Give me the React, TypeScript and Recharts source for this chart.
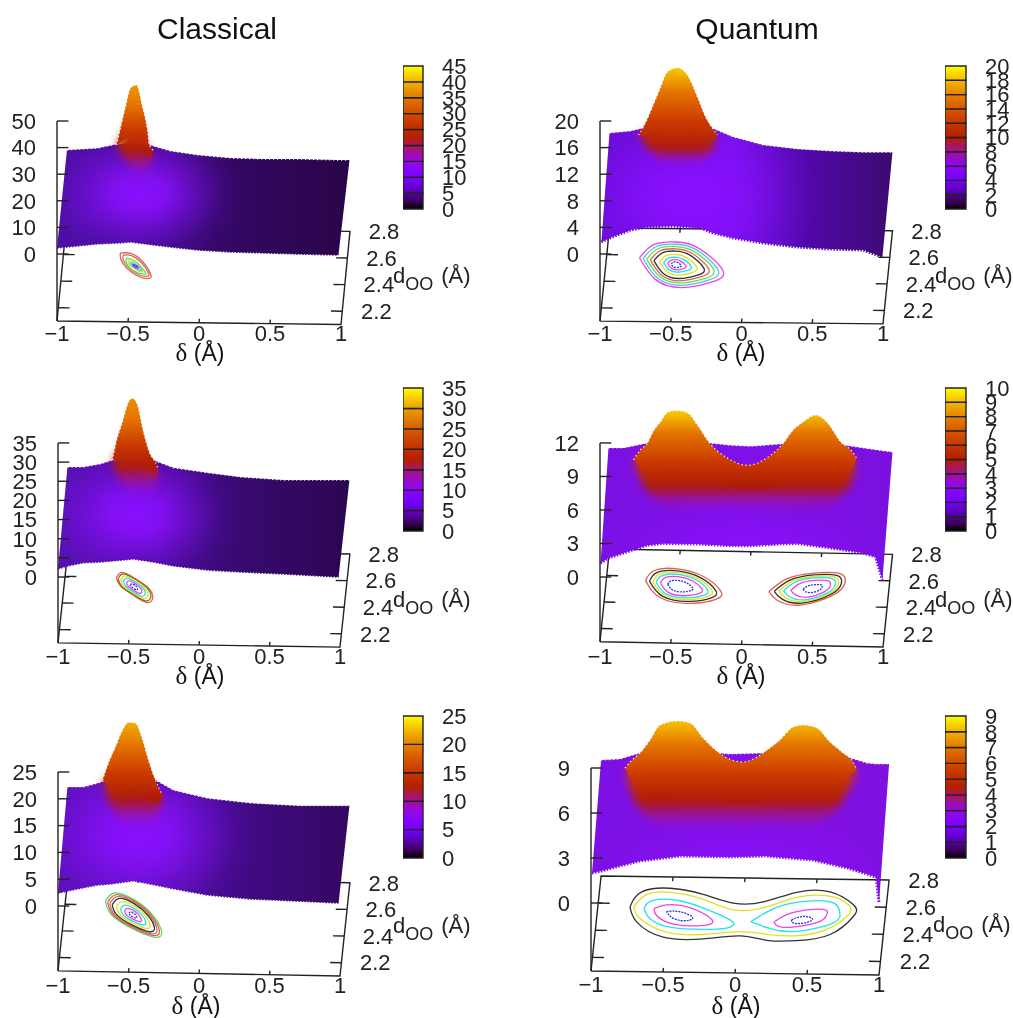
import React from 'react';
import { ComposedChart, Area, Line, Bar, XAxis, YAxis, ReferenceDot } from 'recharts';

// surface outline of every panel: delta (A) and the height on the z axis
const c1SurfaceDelta = [-1, -0.93, -0.715, -0.574, -0.48, -0.349, -0.2, -0.01, 0.222, 0.454, 0.694, 0.982, 1.06];
const c1SurfaceTop = [2.3, 39.1, 39.8, 41.4, 41.7, 41, 38.7, 37.2, 36.1, 35.7, 35.7, 35.3, 35.3];
const c1SurfaceLow = [2.3, 2.6, 3.8, 4.1, 4.5, 3.6, 2.6, 1.5, 0.75, 0.4, 0, -0.4, 35.3];
const c1PeakDelta = [-0.58, -0.553, -0.518, -0.482, -0.44, -0.398, -0.363, -0.35, -0.32];
const c1PeakTop = [41, 47.4, 55.3, 62.4, 63.5, 55.3, 46.6, 41, 39];
const c1PeakLow = [41, 38.3, 35.3, 31.6, 28.6, 28.6, 29.3, 31.6, 39];

const q1SurfaceDelta = [-0.99, -0.933, -0.784, -0.664, -0.48, -0.29, -0.205, -0.057, 0.155, 0.396, 0.629, 0.862, 0.996, 1.067];
const q1SurfaceTop = [1.8, 18.2, 18.5, 19.1, 19.4, 19.1, 18.9, 17.6, 16.4, 15.8, 15.5, 15.3, 15.3, 15.3];
const q1SurfaceLow = [1.8, 2.4, 3.6, 4.1, 4.2, 3.9, 3.2, 2.4, 1.65, 1.05, 0.75, 0.6, -0.45, 15.3];
const q1PeakDelta = [-0.728, -0.693, -0.63, -0.572, -0.523, -0.452, -0.382, -0.311, -0.254, -0.205, -0.17];
const q1PeakTop = [17.9, 19.1, 22.1, 25.1, 27.4, 28, 26.9, 23.6, 20.6, 18.9, 17.9];
const q1PeakLow = [17.9, 16.8, 15.3, 14.1, 13.5, 13.2, 13.4, 13.8, 14.7, 15.9, 17.9];

const c2SurfaceDelta = [-1, -0.933, -0.82, -0.7, -0.613, -0.465, -0.323, -0.18, 0.06, 0.294, 0.6, 0.99, 1.067];
const c2SurfaceTop = [2.1, 28.7, 28.7, 29.5, 30.5, 31.1, 30.5, 28.5, 27.2, 26.1, 25.3, 25.3, 25.3];
const c2SurfaceLow = [2.1, 2.9, 3.7, 3.9, 4.2, 4.7, 3.9, 2.9, 1.8, 1.3, 0.8, 0, 25.3];
const c2PeakDelta = [-0.613, -0.592, -0.543, -0.5, -0.472, -0.436, -0.394, -0.344, -0.309, -0.287];
const c2PeakTop = [30.5, 34.5, 40.5, 45.7, 46.7, 44.9, 37.9, 31.9, 30, 27.9];
const c2PeakLow = [30.5, 27.9, 24.3, 22.2, 21.4, 20.9, 20.9, 21.4, 22.7, 27.9];

const q2SurfaceDelta = [-0.996, -0.94, -0.834, -0.664, -0.551, -0.311, -0.078, 0.064, 0.276, 0.396, 0.629, 0.862, 0.947, 0.996, 1.067];
const q2SurfaceTop = [1.25, 11.55, 11.55, 12, 12.1, 12.1, 11.8, 11.7, 11.9, 12.1, 12, 11.55, 11.4, 11.3, 11.2];
const q2SurfaceLow = [1.25, 1.7, 2.15, 2.85, 3, 2.95, 2.8, 2.8, 2.95, 3, 2.6, 2.15, 1.8, -0.25, 11.2];
const q2PeakDelta = [-0.763, -0.714, -0.664, -0.63, -0.572, -0.516, -0.452, -0.382, -0.311, -0.233, -0.1, 0.042, 0.184, 0.297, 0.367, 0.438, 0.523, 0.608, 0.7, 0.784, 0.813];
const q2PeakTop = [10.5, 11.4, 12, 12.9, 13.9, 14.8, 14.9, 14.7, 13.6, 12.1, 10.65, 10, 10.7, 12, 13.2, 13.9, 14.5, 13.8, 12.1, 11.2, 10.65];
const q2PeakLow = [10.5, 8.7, 7.6, 7.2, 6.6, 6.3, 6, 6, 6, 6.3, 6.45, 6.4, 6.1, 5.8, 5.7, 5.7, 5.8, 6.2, 7.2, 8.7, 10.65];

const c3SurfaceDelta = [-1, -0.933, -0.82, -0.72, -0.628, -0.465, -0.309, -0.18, 0.06, 0.365, 0.72, 0.99, 1.067];
const c3SurfaceTop = [2.4, 22.2, 22.2, 22.9, 23.7, 24.4, 23.5, 21.6, 20.1, 19.2, 18.7, 18.7, 18.7];
const c3SurfaceLow = [2.4, 2.8, 3.4, 3.9, 4.1, 4.7, 3.9, 3.2, 2.05, 1.3, 0.9, 0.55, 18.7];
const c3PeakDelta = [-0.684, -0.642, -0.592, -0.543, -0.5, -0.45, -0.4, -0.358, -0.309, -0.26];
const c3PeakTop = [23.5, 26.7, 29.7, 32.8, 34.3, 34.1, 31, 27.2, 23.5, 20.7];
const c3PeakLow = [23.5, 19.8, 17, 15.7, 14.9, 14.6, 14.4, 14.6, 15.7, 19.8];

const q3SurfaceDelta = [-0.993, -0.93, -0.8, -0.66, -0.38, -0.035, 0.21, 0.54, 0.78, 0.917, 0.98, 1, 1.07];
const q3SurfaceTop = [2, 9.53, 9.6, 10, 10.2, 9.93, 10, 10.07, 9.73, 9.33, 9.27, 9.27, 9.27];
const q3SurfaceLow = [2, 2.13, 2.47, 2.8, 3.13, 3.07, 3.13, 2.87, 2.33, 1.93, 1.73, 0, 9.27];
const q3PeakDelta = [-0.764, -0.715, -0.66, -0.59, -0.52, -0.403, -0.3125, -0.222, -0.118, -0.056, 0.056, 0.153, 0.222, 0.3125, 0.403, 0.472, 0.569, 0.66, 0.75, 0.82, 0.847];
const q3PeakTop = [9, 9.53, 10, 10.87, 11.87, 12.13, 12, 11, 10.07, 9.67, 9.4, 9.73, 10.2, 10.87, 11.73, 11.87, 11.67, 10.73, 10, 9.4, 8.87];
const q3PeakLow = [9, 7.2, 6.2, 5.53, 5.07, 4.73, 4.67, 4.67, 4.67, 4.67, 4.67, 4.67, 4.67, 4.67, 4.73, 4.87, 5.2, 5.87, 6.87, 8.2, 8.87];

// contour loops on the floor: [delta, dOO]
const c1Loops = [
  [[-0.602, 2.616], [-0.532, 2.616], [-0.45, 2.566], [-0.375, 2.465], [-0.384, 2.428], [-0.45, 2.44], [-0.544, 2.503], [-0.591, 2.566]],
  [[-0.58, 2.6], [-0.525, 2.6], [-0.45, 2.55], [-0.39, 2.47], [-0.395, 2.445], [-0.455, 2.455], [-0.54, 2.515], [-0.575, 2.565]],
  [[-0.555, 2.578], [-0.485, 2.553], [-0.414, 2.478], [-0.414, 2.46], [-0.473, 2.473], [-0.544, 2.528]],
  [[-0.54, 2.56], [-0.485, 2.54], [-0.43, 2.48], [-0.47, 2.49], [-0.53, 2.53]],
  [[-0.525, 2.545], [-0.48, 2.53], [-0.44, 2.49], [-0.475, 2.5], [-0.52, 2.53]],
  [[-0.51, 2.535], [-0.48, 2.525], [-0.46, 2.505], [-0.49, 2.51]],
  [[-0.5, 2.53], [-0.48, 2.52], [-0.47, 2.51], [-0.49, 2.515]],
];
const q1Loops = [
  [[-0.767, 2.579], [-0.672, 2.68], [-0.519, 2.7], [-0.354, 2.654], [-0.17, 2.491], [-0.236, 2.403], [-0.448, 2.358], [-0.637, 2.416]],
  [[-0.741, 2.574], [-0.656, 2.665], [-0.518, 2.683], [-0.369, 2.642], [-0.204, 2.495], [-0.263, 2.416], [-0.454, 2.375], [-0.624, 2.427]],
  [[-0.715, 2.569], [-0.639, 2.65], [-0.517, 2.666], [-0.385, 2.629], [-0.237, 2.499], [-0.29, 2.428], [-0.46, 2.392], [-0.611, 2.439]],
  [[-0.689, 2.564], [-0.623, 2.635], [-0.515, 2.649], [-0.4, 2.617], [-0.271, 2.502], [-0.317, 2.441], [-0.466, 2.409], [-0.598, 2.45]],
  [[-0.663, 2.559], [-0.606, 2.62], [-0.514, 2.632], [-0.415, 2.604], [-0.305, 2.506], [-0.344, 2.453], [-0.472, 2.426], [-0.585, 2.461]],
  [[-0.624, 2.552], [-0.581, 2.597], [-0.512, 2.606], [-0.438, 2.585], [-0.355, 2.512], [-0.385, 2.472], [-0.48, 2.452], [-0.566, 2.478]],
  [[-0.593, 2.546], [-0.561, 2.579], [-0.511, 2.585], [-0.456, 2.57], [-0.396, 2.516], [-0.418, 2.487], [-0.488, 2.473], [-0.55, 2.492]],
  [[-0.564, 2.54], [-0.543, 2.562], [-0.51, 2.567], [-0.473, 2.557], [-0.433, 2.521], [-0.447, 2.501], [-0.494, 2.491], [-0.536, 2.504]],
  [[-0.538, 2.535], [-0.527, 2.547], [-0.508, 2.55], [-0.489, 2.544], [-0.467, 2.524], [-0.474, 2.514], [-0.5, 2.508], [-0.523, 2.515]],
];
const c2Loops = [
  [[-0.635, 2.594], [-0.599, 2.636], [-0.505, 2.594], [-0.411, 2.531], [-0.363, 2.456], [-0.399, 2.413], [-0.505, 2.468], [-0.599, 2.531]],
  [[-0.622, 2.588], [-0.59, 2.626], [-0.505, 2.588], [-0.42, 2.531], [-0.377, 2.464], [-0.41, 2.425], [-0.505, 2.474], [-0.59, 2.531]],
  [[-0.603, 2.578], [-0.576, 2.61], [-0.505, 2.578], [-0.435, 2.531], [-0.398, 2.475], [-0.426, 2.443], [-0.505, 2.484], [-0.576, 2.531]],
  [[-0.583, 2.569], [-0.561, 2.594], [-0.505, 2.569], [-0.449, 2.531], [-0.42, 2.486], [-0.441, 2.46], [-0.505, 2.493], [-0.561, 2.531]],
  [[-0.56, 2.557], [-0.544, 2.575], [-0.505, 2.557], [-0.466, 2.531], [-0.445, 2.5], [-0.46, 2.481], [-0.505, 2.505], [-0.544, 2.531]],
  [[-0.531, 2.544], [-0.524, 2.552], [-0.505, 2.544], [-0.486, 2.531], [-0.477, 2.516], [-0.484, 2.507], [-0.505, 2.518], [-0.524, 2.531]],
];
const q2Loops = [
  [[-0.723, 2.567], [-0.671, 2.643], [-0.508, 2.661], [-0.314, 2.605], [-0.187, 2.503], [-0.205, 2.44], [-0.389, 2.402], [-0.605, 2.44]],
  [[-0.694, 2.562], [-0.649, 2.629], [-0.505, 2.645], [-0.334, 2.596], [-0.223, 2.506], [-0.238, 2.451], [-0.4, 2.417], [-0.59, 2.451]],
  [[-0.67, 2.559], [-0.63, 2.618], [-0.503, 2.632], [-0.351, 2.588], [-0.252, 2.509], [-0.266, 2.46], [-0.41, 2.43], [-0.578, 2.46]],
  [[-0.647, 2.555], [-0.611, 2.607], [-0.5, 2.619], [-0.368, 2.581], [-0.282, 2.511], [-0.294, 2.468], [-0.419, 2.443], [-0.566, 2.468]],
  [[-0.615, 2.55], [-0.587, 2.592], [-0.497, 2.602], [-0.39, 2.571], [-0.321, 2.515], [-0.33, 2.48], [-0.432, 2.459], [-0.551, 2.48]],
  [[-0.563, 2.542], [-0.546, 2.567], [-0.492, 2.573], [-0.428, 2.554], [-0.386, 2.52], [-0.392, 2.5], [-0.453, 2.487], [-0.524, 2.5]],
  [[0.155, 2.501], [0.275, 2.602], [0.46, 2.648], [0.648, 2.646], [0.685, 2.577], [0.616, 2.488], [0.388, 2.405], [0.22, 2.438]],
  [[0.193, 2.505], [0.299, 2.593], [0.462, 2.634], [0.627, 2.632], [0.66, 2.571], [0.599, 2.493], [0.398, 2.42], [0.251, 2.449]],
  [[0.225, 2.508], [0.319, 2.586], [0.463, 2.622], [0.61, 2.621], [0.639, 2.567], [0.585, 2.497], [0.407, 2.433], [0.276, 2.458]],
  [[0.257, 2.511], [0.339, 2.579], [0.465, 2.611], [0.593, 2.609], [0.618, 2.562], [0.571, 2.502], [0.416, 2.445], [0.302, 2.468]],
  [[0.309, 2.515], [0.371, 2.568], [0.467, 2.592], [0.565, 2.591], [0.584, 2.555], [0.548, 2.509], [0.43, 2.465], [0.342, 2.483]],
  [[0.395, 2.523], [0.425, 2.549], [0.471, 2.56], [0.518, 2.56], [0.528, 2.543], [0.51, 2.52], [0.453, 2.5], [0.411, 2.508]],
];
const c3Loops = [
  [[-0.717, 2.629], [-0.654, 2.692], [-0.512, 2.642], [-0.37, 2.529], [-0.295, 2.403], [-0.347, 2.366], [-0.512, 2.429], [-0.665, 2.529]],
  [[-0.7, 2.621], [-0.643, 2.679], [-0.512, 2.633], [-0.381, 2.529], [-0.312, 2.413], [-0.36, 2.379], [-0.512, 2.437], [-0.653, 2.529]],
  [[-0.684, 2.613], [-0.631, 2.666], [-0.512, 2.624], [-0.393, 2.529], [-0.33, 2.423], [-0.373, 2.392], [-0.512, 2.445], [-0.641, 2.529]],
  [[-0.666, 2.604], [-0.618, 2.651], [-0.512, 2.614], [-0.406, 2.529], [-0.349, 2.435], [-0.388, 2.407], [-0.512, 2.454], [-0.627, 2.529]],
  [[-0.635, 2.589], [-0.597, 2.627], [-0.512, 2.597], [-0.427, 2.529], [-0.382, 2.453], [-0.413, 2.431], [-0.512, 2.469], [-0.604, 2.529]],
  [[-0.604, 2.574], [-0.576, 2.602], [-0.512, 2.58], [-0.448, 2.529], [-0.414, 2.472], [-0.438, 2.456], [-0.512, 2.484], [-0.581, 2.529]],
  [[-0.574, 2.559], [-0.555, 2.578], [-0.512, 2.563], [-0.469, 2.529], [-0.447, 2.491], [-0.462, 2.48], [-0.512, 2.499], [-0.558, 2.529]],
  [[-0.541, 2.543], [-0.532, 2.552], [-0.512, 2.545], [-0.492, 2.529], [-0.482, 2.511], [-0.489, 2.506], [-0.512, 2.515], [-0.533, 2.529]],
];
const q3Loops = [
  [[-0.777, 2.577], [-0.707, 2.687], [-0.513, 2.717], [-0.278, 2.675], [-0.063, 2.614], [0.144, 2.626], [0.368, 2.7], [0.599, 2.707], [0.771, 2.614], [0.779, 2.528], [0.631, 2.393], [0.404, 2.344], [0.196, 2.344], [0.008, 2.373], [-0.245, 2.348], [-0.524, 2.356], [-0.72, 2.466]],
  [[-0.75, 2.577], [-0.671, 2.668], [-0.51, 2.687], [-0.274, 2.638], [-0.058, 2.565], [0.171, 2.589], [0.372, 2.663], [0.602, 2.675], [0.736, 2.614], [0.743, 2.54], [0.604, 2.43], [0.4, 2.38], [0.191, 2.388], [0.005, 2.405], [-0.248, 2.38], [-0.504, 2.393], [-0.699, 2.491]],
  [[-0.678, 2.565], [-0.62, 2.626], [-0.435, 2.626], [-0.243, 2.565], [-0.057, 2.479], [-0.091, 2.43], [-0.252, 2.417], [-0.484, 2.43], [-0.629, 2.491]],
  [[0.071, 2.479], [0.197, 2.565], [0.375, 2.626], [0.607, 2.633], [0.679, 2.565], [0.645, 2.479], [0.397, 2.412], [0.21, 2.43]],
  [[-0.609, 2.565], [-0.524, 2.594], [-0.361, 2.577], [-0.201, 2.491], [-0.255, 2.447], [-0.463, 2.454], [-0.586, 2.515]],
  [[0.233, 2.479], [0.36, 2.552], [0.565, 2.577], [0.589, 2.528], [0.529, 2.479], [0.348, 2.442], [0.254, 2.454]],
  [[-0.52, 2.545], [-0.427, 2.545], [-0.334, 2.503], [-0.397, 2.479], [-0.48, 2.503]],
  [[0.353, 2.496], [0.432, 2.523], [0.499, 2.503], [0.437, 2.474], [0.368, 2.474]],
];

// axis ticks
const deltaTicks = [-1, -0.5, 0, 0.5, 1];
const dooTicks = [2.2, 2.4, 2.6, 2.8];
const c1ZTicks = [0, 10, 20, 30, 40, 50];
const q1ZTicks = [0, 4, 8, 12, 16, 20];
const c2ZTicks = [0, 5, 10, 15, 20, 25, 30, 35];
const q2ZTicks = [0, 3, 6, 9, 12];
const c3ZTicks = [0, 5, 10, 15, 20, 25];
const q3ZTicks = [0, 3, 6, 9];
const c1BarTicks = [0, 5, 10, 15, 20, 25, 30, 35, 40, 45];
const q1BarTicks = [0, 2, 4, 6, 8, 10, 12, 14, 16, 18, 20];
const c2BarTicks = [0, 5, 10, 15, 20, 25, 30, 35];
const q2BarTicks = [0, 1, 2, 3, 4, 5, 6, 7, 8, 9, 10];
const c3BarTicks = [0, 5, 10, 15, 20, 25];
const q3BarTicks = [0, 1, 2, 3, 4, 5, 6, 7, 8, 9];

const INK = '#222';
const FONT = '"Liberation Sans", Arial, sans-serif';
const AXIS_FONT = 22;

const RED = '#e0604c', BLK = '#333', YEL = '#e4e020', CYN = '#20e4e8', MAG = '#f040e8', BLU = '#3030e0', GRN = '#58e060', SAL = '#c87060';

// gnuplot's default pm3d palette
const palette = (t: number) => {
  const r = Math.round(255 * Math.sqrt(t));
  const g = Math.round(255 * t * t * t);
  const b = Math.round(255 * Math.max(0, Math.sin(2 * Math.PI * t)));
  return `rgb(${r},${g},${b})`;
};

const rows = (delta: number[], low: number[], top: number[]) =>
  delta.map((x, i) => ({ x, low: low[i], top: top[i], range: [low[i], top[i]] }));

const fmtTick = (v: number) => (v < 0 ? '\u2212' + Math.abs(v) : String(v));

function Panel({ p }: any) {
  const plotLeft = p.x0 - p.ux - 1;
  const plotRight = p.x0 + p.ux + 62;
  const plotTop = p.plotTop;
  const plotBottom = p.plotBottom;
  const yw = 50;
  const xDomain = [(plotLeft - p.x0) / p.ux, (plotRight - p.x0) / p.ux];
  const zDomain = [(p.y0 - plotBottom) / p.k, (p.y0 - plotTop) / p.k];

  const floor = (d: number, dd: number) => ({
    x: d + (p.floor.shift * (dd - 2.1)) / 0.7,
    z: p.floor.frontL + ((p.floor.frontR - p.floor.frontL) * (d + 1)) / 2 + (p.floor.rise * (dd - 2.1)) / 0.7,
  });
  const outline = [floor(-1, 2.1), floor(1, 2.1), floor(1, 2.8), floor(-1, 2.8), floor(-1, 2.1)];
  const floorTicks: any[] = [];
  [-0.5, 0, 0.5].forEach((d) => {
    floorTicks.push([floor(d, 2.1), floor(d, 2.13)]);
    floorTicks.push([floor(d, 2.8), floor(d, 2.77)]);
  });
  [2.2, 2.4, 2.6].forEach((dd) => {
    floorTicks.push([floor(-1, dd), floor(-0.92, dd)]);
    floorTicks.push([floor(1, dd), floor(0.92, dd)]);
  });
  const zTop = p.zTicks[p.zTicks.length - 1];
  const surface = rows(p.surfaceDelta, p.surfaceLow, p.surfaceTop);
  const peak = rows(p.peakDelta, p.peakLow, p.peakTop);
  // the peak is drawn twice: a soft lower part fading into the surface and a crisp upper part
  const peakSoft = rows(
    p.peakDelta,
    p.peakLow,
    p.peakTop.map((t: number, i: number) => p.peakLow[i] + (t - p.peakLow[i]) * 0.6)
  );
  const peakCrisp = rows(
    p.peakDelta,
    p.peakTop.map((t: number, i: number) => p.peakLow[i] + (t - p.peakLow[i]) * 0.4),
    p.peakTop
  );
  const peakY1 = p.y0 - Math.max(...p.peakTop) * p.k - plotTop;
  const peakY2 = p.y0 - Math.min(...p.peakLow) * p.k - plotTop;
  const sid = `s${p.id}`;
  const [hx, hy, hr, ha] = p.halo;

  return (
    <div style={{ position: 'absolute', left: plotLeft - yw, top: plotTop }}>
      <ComposedChart
        width={plotRight - plotLeft + yw}
        height={plotBottom - plotTop + 30}
        margin={{ top: 0, right: 0, bottom: 0, left: 0 }}
      >
        <defs>
          <linearGradient id={`${sid}-base`} x1="0" y1="0" x2="1" y2="0">
            {p.baseStops.map((s: any, i: number) => (
              <stop key={i} offset={s[0]} stopColor={s[1]} />
            ))}
          </linearGradient>
          <radialGradient
            id={`${sid}-halo`}
            cx={hx}
            cy={hy}
            r={hr}
            gradientTransform={`translate(${hx} ${hy}) scale(1 ${ha}) translate(${-hx} ${-hy})`}
          >
            <stop offset="0" stopColor="#8a10ff" stopOpacity={1} />
            <stop offset="0.25" stopColor="#8a10ff" stopOpacity={0.85} />
            <stop offset="0.55" stopColor="#8a10ff" stopOpacity={0.4} />
            <stop offset="0.8" stopColor="#8a10ff" stopOpacity={0.1} />
            <stop offset="1" stopColor="#8a10ff" stopOpacity={0} />
          </radialGradient>
          <linearGradient id={`${sid}-peak`} gradientUnits="userSpaceOnUse" x1="0" y1={peakY1} x2="0" y2={peakY2}>
            {p.peakStops.map((s: any, i: number) => (
              <stop key={i} offset={s[0]} stopColor={s[1]} stopOpacity={s[2]} />
            ))}
          </linearGradient>
        </defs>
        <XAxis
          dataKey="x"
          type="number"
          domain={xDomain}
          ticks={deltaTicks}
          interval={0}
          tickFormatter={fmtTick}
          axisLine={false}
          tickLine={false}
          tickSize={0}
          tickMargin={0}
          height={30}
          tick={{ fontSize: AXIS_FONT, fill: INK, fontFamily: FONT }}
        />
        <YAxis
          type="number"
          domain={zDomain}
          ticks={p.zTicks}
          interval={0}
          axisLine={false}
          tickLine={false}
          tickSize={0}
          tickMargin={20}
          width={yw}
          tick={{ fontSize: AXIS_FONT, fill: INK, fontFamily: FONT }}
        />

        {/* floor with its contours sits behind the surface */}
        <Line data={outline} dataKey="z" stroke={INK} strokeWidth={1.4} dot={false} activeDot={false} isAnimationActive={false} zIndex={40} />
        {floorTicks.map((seg, i) => (
          <Line key={i} data={seg} dataKey="z" stroke={INK} strokeWidth={1.4} dot={false} activeDot={false} isAnimationActive={false} zIndex={40} />
        ))}
        {p.loops.map((loop: number[][], i: number) => (
          <Line
            key={i}
            data={[...loop, loop[0]].map((q) => floor(q[0], q[1]))}
            dataKey="z"
            type="natural"
            stroke={p.loopColors[i]}
            strokeWidth={1.3}
            strokeDasharray={p.loopColors[i] === BLU ? '2 1' : undefined}
            dot={false}
            activeDot={false}
            isAnimationActive={false}
            zIndex={41}
          />
        ))}

        <Area data={surface} dataKey="range" type="linear" stroke="none" fill={`url(#${sid}-base)`} fillOpacity={1} dot={false} activeDot={false} isAnimationActive={false} zIndex={100} />
        <Area data={surface} dataKey="range" type="linear" stroke="none" fill={`url(#${sid}-halo)`} fillOpacity={1} dot={false} activeDot={false} isAnimationActive={false} zIndex={101} />
        <Line data={surface.slice(0, -1)} dataKey="low" stroke={`url(#${sid}-base)`} strokeWidth={p.teeth} strokeDasharray="1.5 1.5" dot={false} activeDot={false} isAnimationActive={false} zIndex={102} />
        <Line data={surface.slice(1)} dataKey="top" stroke="#fff" strokeWidth={1.2} strokeDasharray="1.2 2.8" dot={false} activeDot={false} isAnimationActive={false} zIndex={103} />

        <Area data={peakSoft} dataKey="range" type="monotone" stroke="none" fill={`url(#${sid}-peak)`} fillOpacity={1} dot={false} activeDot={false} isAnimationActive={false} style={{ filter: 'blur(4px)' }} zIndex={110} />
        <Area data={peakCrisp} dataKey="range" type="monotone" stroke="none" fill={`url(#${sid}-peak)`} fillOpacity={1} dot={false} activeDot={false} isAnimationActive={false} zIndex={111} />
        <Line data={peak} dataKey="top" type="monotone" stroke="#fff" strokeWidth={1.2} strokeDasharray="1.2 2.8" dot={false} activeDot={false} isAnimationActive={false} zIndex={112} />

        {/* the z axis is drawn over the surface */}
        <Line data={[floor(-1, 2.1), { x: -1, z: zTop }]} dataKey="z" stroke={INK} strokeWidth={1.4} dot={false} activeDot={false} isAnimationActive={false} zIndex={120} />
        {p.zTicks.map((z: number) => (
          <Line key={z} data={[{ x: -1, z }, { x: -0.92, z }]} dataKey="z" stroke={INK} strokeWidth={1.4} dot={false} activeDot={false} isAnimationActive={false} zIndex={120} />
        ))}

        {dooTicks.map((dd) => {
          const at = floor(1, dd);
          return (
            <ReferenceDot
              key={dd}
              x={at.x + 0.24}
              y={at.z}
              r={0}
              fill="none"
              stroke="none"
              ifOverflow="visible"
              label={{ value: dd.toFixed(1), position: 'center', fontSize: AXIS_FONT, fill: INK, fontFamily: FONT }}
            />
          );
        })}
      </ComposedChart>
    </div>
  );
}

function Colorbar({ p }: any) {
  const pad = 12;
  const ticks: number[] = p.barTicks;
  const max = ticks[ticks.length - 1];
  const row: any = { name: 'c' };
  const bands = ticks.slice(1).map((t, i) => {
    row[`b${i}`] = t - ticks[i];
    return `b${i}`;
  });
  const stops = Array.from({ length: 21 }, (_, i) => i / 20);
  const gid = `bar${p.id}`;
  return (
    <div style={{ position: 'absolute', left: p.barLeft, top: p.barTop - pad }}>
      <ComposedChart
        width={p.barWidth + 50}
        height={p.barHeight + pad * 2}
        data={[row]}
        margin={{ top: pad, right: 0, bottom: pad, left: 0 }}
        barCategoryGap={0}
      >
        <defs>
          <linearGradient id={gid} gradientUnits="userSpaceOnUse" x1="0" y1={pad} x2="0" y2={pad + p.barHeight}>
            {stops.map((t) => (
              <stop key={t} offset={t} stopColor={palette(1 - t)} />
            ))}
          </linearGradient>
        </defs>
        <XAxis dataKey="name" hide />
        <YAxis
          orientation="right"
          type="number"
          domain={[0, max]}
          ticks={ticks}
          interval={0}
          axisLine={false}
          tickLine={false}
          tickSize={0}
          tickMargin={19}
          width={50}
          tick={{ fontSize: AXIS_FONT, fill: INK, fontFamily: FONT }}
        />
        {bands.map((b) => (
          <Bar key={b} dataKey={b} stackId="cb" fill={`url(#${gid})`} stroke="#222" strokeWidth={1.4} isAnimationActive={false} />
        ))}
      </ComposedChart>
    </div>
  );
}

const loopsC1 = [RED, SAL, GRN, YEL, CYN, MAG, BLU];
const loopsQ1 = [MAG, '#50c0e0', GRN, RED, BLK, YEL, CYN, MAG, BLU];
const loopsC2 = [RED, '#807020', YEL, CYN, MAG, BLU];
const loopsQ2 = [RED, BLK, YEL, CYN, MAG, BLU, RED, BLK, YEL, CYN, MAG, BLU];
const loopsC3 = [GRN, RED, SAL, BLK, YEL, CYN, MAG, BLU];
const loopsQ3 = [BLK, YEL, CYN, CYN, MAG, MAG, BLU, BLU];

const peakStops = (top: string, red: number) => [
  [0, top, 1],
  [red * 0.3, '#e47400', 1],
  [red * 0.65, '#cc3c00', 1],
  [red, '#ae1a08', 1],
  [red + (1 - red) * 0.5, '#9c14a0', 0.75],
  [1, '#8a10e0', 0],
];

const panels = [
  {
    id: 'c1', x0: 198.5, ux: 142, y0: 254, k: 2.66, plotTop: 60, plotBottom: 325, teeth: 1.5,
    floor: { frontL: -25.2, frontR: -26.5, rise: 35, shift: 0.063 },
    surfaceDelta: c1SurfaceDelta, surfaceTop: c1SurfaceTop, surfaceLow: c1SurfaceLow,
    peakDelta: c1PeakDelta, peakTop: c1PeakTop, peakLow: c1PeakLow,
    loops: c1Loops, loopColors: loopsC1, zTicks: c1ZTicks,
    baseStops: [[0, '#4c0ea4'], [0.3, '#460c94'], [0.55, '#340868'], [1, '#2a0548']],
    halo: [0.285, 0.45, 0.36, 1.8], peakStops: peakStops('#ec9a00', 0.72),
    barTicks: c1BarTicks, barLeft: 403, barTop: 66, barWidth: 20, barHeight: 143,
  },
  {
    id: 'q1', x0: 741, ux: 141.5, y0: 254, k: 6.65, plotTop: 60, plotBottom: 325, teeth: 3,
    floor: { frontL: -10.1, frontR: -10.5, rise: 14, shift: 0.067 },
    surfaceDelta: q1SurfaceDelta, surfaceTop: q1SurfaceTop, surfaceLow: q1SurfaceLow,
    peakDelta: q1PeakDelta, peakTop: q1PeakTop, peakLow: q1PeakLow,
    loops: q1Loops, loopColors: loopsQ1, zTicks: q1ZTicks,
    baseStops: [[0, '#6a0cd8'], [0.45, '#7a10f0'], [0.72, '#5008a8'], [1, '#3c0a70']],
    halo: [0.3, 0.55, 0.45, 1.5], peakStops: peakStops('#f8c800', 0.82),
    barTicks: q1BarTicks, barLeft: 945, barTop: 66, barWidth: 21, barHeight: 143,
  },
  {
    id: 'c2', x0: 198.5, ux: 141, y0: 577, k: 3.83, plotTop: 385, plotBottom: 648, teeth: 1.5,
    floor: { frontL: -17.2, frontR: -18.3, rise: 24.3, shift: 0.07 },
    surfaceDelta: c2SurfaceDelta, surfaceTop: c2SurfaceTop, surfaceLow: c2SurfaceLow,
    peakDelta: c2PeakDelta, peakTop: c2PeakTop, peakLow: c2PeakLow,
    loops: c2Loops, loopColors: loopsC2, zTicks: c2ZTicks,
    baseStops: [[0, '#5410b0'], [0.3, '#4c0c9c'], [0.55, '#3a0a78'], [1, '#2c0650']],
    halo: [0.267, 0.475, 0.37, 1.8], peakStops: peakStops('#e89000', 0.7),
    barTicks: c2BarTicks, barLeft: 403, barTop: 388, barWidth: 20, barHeight: 143,
  },
  {
    id: 'q2', x0: 741, ux: 141.5, y0: 577, k: 11.17, plotTop: 385, plotBottom: 648, teeth: 3,
    floor: { frontL: -5.8, frontR: -6.27, rise: 8.3, shift: 0.067 },
    surfaceDelta: q2SurfaceDelta, surfaceTop: q2SurfaceTop, surfaceLow: q2SurfaceLow,
    peakDelta: q2PeakDelta, peakTop: q2PeakTop, peakLow: q2PeakLow,
    loops: q2Loops, loopColors: loopsQ2, zTicks: q2ZTicks,
    baseStops: [[0, '#7a10e4'], [0.5, '#8010e8'], [1, '#7a10e0']],
    halo: [0.5, 0.85, 0.55, 0.8], peakStops: peakStops('#f8cc00', 0.74),
    barTicks: q2BarTicks, barLeft: 945, barTop: 388, barWidth: 21, barHeight: 143,
  },
  {
    id: 'c3', x0: 198.5, ux: 141, y0: 906, k: 5.36, plotTop: 710, plotBottom: 977, teeth: 1.5,
    floor: { frontL: -12.1, frontR: -13.06, rise: 17.4, shift: 0.07 },
    surfaceDelta: c3SurfaceDelta, surfaceTop: c3SurfaceTop, surfaceLow: c3SurfaceLow,
    peakDelta: c3PeakDelta, peakTop: c3PeakTop, peakLow: c3PeakLow,
    loops: c3Loops, loopColors: loopsC3, zTicks: c3ZTicks,
    baseStops: [[0, '#5a10b8'], [0.3, '#5c10b8'], [0.6, '#420a88'], [1, '#340860']],
    halo: [0.28, 0.47, 0.42, 1.7], peakStops: peakStops('#f0b000', 0.72),
    barTicks: c3BarTicks, barLeft: 403, barTop: 716, barWidth: 20, barHeight: 142,
  },
  {
    id: 'q3', x0: 735, ux: 144, y0: 903, k: 15, plotTop: 710, plotBottom: 976, teeth: 3,
    floor: { frontL: -4.53, frontR: -4.8, rise: 6.33, shift: 0.07 },
    surfaceDelta: q3SurfaceDelta, surfaceTop: q3SurfaceTop, surfaceLow: q3SurfaceLow,
    peakDelta: q3PeakDelta, peakTop: q3PeakTop, peakLow: q3PeakLow,
    loops: q3Loops, loopColors: loopsQ3, zTicks: q3ZTicks,
    baseStops: [[0, '#7c10e4'], [0.5, '#8210e8'], [1, '#8010e0']],
    halo: [0.5, 0.85, 0.55, 0.8], peakStops: peakStops('#f8c000', 0.72),
    barTicks: q3BarTicks, barLeft: 945, barTop: 716, barWidth: 21, barHeight: 142,
  },
];

// caption positions on the page
const deltaCaptions = [[200, 341], [741, 341], [200, 664], [741, 664], [196, 994], [736, 994]];
const dooCaptions = [[393, 283], [935, 283], [393, 607], [935, 607], [393, 933], [933, 932]];

const Caption = ({ x, y, children, size }: any) => (
  <div style={{ position: 'absolute', left: x - 100, width: 200, top: y, textAlign: 'center', fontFamily: FONT, fontSize: size, lineHeight: `${size}px`, color: '#111' }}>
    {children}
  </div>
);

export default function App() {
  return (
    <div style={{ position: 'absolute', left: 0, top: 0, width: 1013, height: 1018, background: '#fff', overflow: 'hidden', filter: 'blur(0.45px)' }}>
      <Caption x={217} y={14} size={30}>Classical</Caption>
      <Caption x={757} y={14} size={30}>Quantum</Caption>
      {panels.map((p) => (
        <Panel key={p.id} p={p} />
      ))}
      {panels.map((p) => (
        <Colorbar key={p.id} p={p} />
      ))}
      {deltaCaptions.map((c, i) => (
        <Caption key={i} x={c[0]} y={c[1]} size={23}>
          <span style={{ fontFamily: '"Liberation Serif", serif', fontSize: 25 }}>{'\u03b4'}</span> ({'\u00c5'})
        </Caption>
      ))}
      {dooCaptions.map((c, i) => (
        <div key={i} style={{ position: 'absolute', left: c[0], top: c[1] - 18, fontFamily: FONT, fontSize: AXIS_FONT, lineHeight: '21px', color: INK, whiteSpace: 'nowrap' }}>
          d<span style={{ fontSize: 18, position: 'relative', top: 7 }}>OO</span>
          <span style={{ marginLeft: 8 }}>({'\u00c5'})</span>
        </div>
      ))}
    </div>
  );
}
